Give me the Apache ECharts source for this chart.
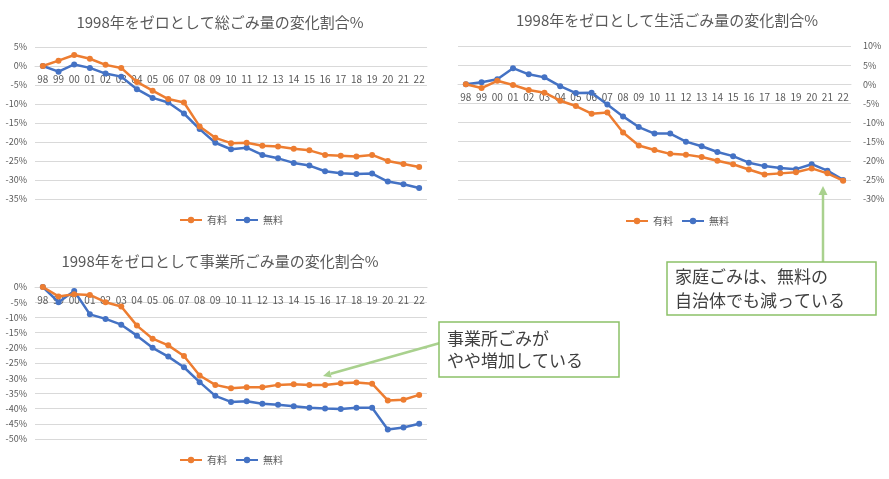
<!DOCTYPE html>
<html>
<head>
<meta charset="utf-8">
<script src="https://cdn.jsdelivr.net/npm/echarts@6/dist/echarts.min.js"></script>
<style>
html,body{margin:0;padding:0;background:#fff;}
#c{width:889px;height:479px;}
</style>
</head>
<body>
<div id="c"></div>
<script>
const categories = ['98','99','00','01','02','03','04','05','06','07','08','09','10','11','12','13','14','15','16','17','18','19','20','21','22'];

const totalPaid = [0,1.4,2.9,1.9,0.3,-0.5,-4.2,-6.5,-8.7,-9.6,-15.9,-18.9,-20.3,-20.2,-21.0,-21.2,-21.8,-22.2,-23.4,-23.6,-23.8,-23.4,-25.0,-25.8,-26.6];
const totalFree = [0,-1.5,0.4,-0.5,-2.0,-2.8,-6.1,-8.4,-9.6,-12.5,-16.6,-20.2,-21.9,-21.5,-23.4,-24.3,-25.5,-26.2,-27.7,-28.2,-28.4,-28.3,-30.4,-31.1,-32.1];

const homePaid = [0,-1.0,0.9,-0.2,-1.5,-2.2,-4.3,-5.7,-7.7,-7.4,-12.6,-16.0,-17.2,-18.2,-18.4,-19.0,-20.0,-20.9,-22.3,-23.6,-23.3,-23.0,-22.0,-23.3,-25.2];
const homeFree = [0,0.5,1.3,4.2,2.6,1.8,-0.5,-2.3,-2.2,-5.3,-8.4,-11.2,-12.9,-12.9,-15.0,-16.2,-17.7,-18.8,-20.5,-21.4,-21.9,-22.2,-20.9,-22.6,-25.0];

const bizPaid = [0,-3.1,-2.4,-2.6,-5.0,-6.4,-12.7,-17.0,-19.2,-22.7,-29.1,-32.2,-33.3,-33.0,-33.0,-32.2,-32.0,-32.2,-32.2,-31.7,-31.4,-31.8,-37.3,-37.1,-35.5];
const bizFree = [0,-5.0,-1.3,-9.0,-10.5,-12.4,-16.0,-20.0,-22.9,-26.4,-31.3,-35.8,-37.8,-37.6,-38.4,-38.7,-39.2,-39.7,-40.0,-40.1,-39.7,-39.7,-46.9,-46.2,-45.0];

const titles = ['1998年をゼロとして総ごみ量の変化割合%','1998年をゼロとして生活ごみ量の変化割合%','1998年をゼロとして事業所ごみ量の変化割合%'];
const seriesNames = ['有料','無料'];
const notes = ['事業所ごみが\nやや増加している','家庭ごみは、無料の\n自治体でも減っている'];

const FONT = '"Noto Sans CJK JP", "Noto Sans", sans-serif';
const ORANGE = '#ED7D31', BLUE = '#4472C4', GRID = '#d9d9d9', TXT = '#595959';
const GREEN = '#a9d18e', BORDER = '#8cc168';
const H = 479;

const grids = [
  {left:35, right:462, top:47, bottom:280},
  {left:458, right:38, top:46, bottom:280},
  {left:35, right:462, top:287, bottom:40}
];
const yRanges = [[-35,5],[-30,10],[-50,0]];

// place the category axis on the zero line of its value axis
function zeroOffset(i){
  const g = grids[i];
  const h = H - g.top - g.bottom;
  const r = yRanges[i];
  const zeroY = g.top + h * (r[1] - 0) / (r[1] - r[0]);
  return -((H - g.bottom) - zeroY);
}

function xAx(i){
  return {type:'category', gridIndex:i, data:categories, boundaryGap:true,
    position:'bottom', offset: zeroOffset(i),
    axisLine:{show:true, onZero:false, lineStyle:{color:GRID}},
    axisTick:{show:false},
    axisLabel:{color:TXT, fontSize:10, fontFamily:FONT, margin:8, interval:0}};
}
function yAx(i){
  return {type:'value', gridIndex:i, min:yRanges[i][0], max:yRanges[i][1], interval:5,
    position: i===1 ? 'right' : 'left',
    axisLine:{show:false}, axisTick:{show:false},
    splitLine:{lineStyle:{color:GRID, width:1}},
    axisLabel:{color:TXT, fontSize:9, fontFamily:FONT, margin:i===1?12:8, formatter:'{value}%'}};
}
function ser(name, data, i, color){
  return {name:name, type:'line', xAxisIndex:i, yAxisIndex:i, data:data,
    symbol:'circle', symbolSize:6, showSymbol:true,
    lineStyle:{color:color, width:2.5}, itemStyle:{color:color}, animation:false, z: name==='有料'?3:2};
}
function leg(left, top){
  return {left:left, top:top, data:seriesNames, itemWidth:22, itemHeight:8, itemGap:8,
    textStyle:{color:TXT, fontSize:10, fontFamily:FONT}};
}
function ttl(x, y, t){
  return {type:'text', x:x, y:y, style:{text:t, fill:TXT, font:'15px '+FONT, textAlign:'center', textVerticalAlign:'middle'}};
}

const option = {
  backgroundColor:'#fff',
  animation:false,
  grid: grids,
  xAxis: [xAx(0), xAx(1), xAx(2)],
  yAxis: [yAx(0), yAx(1), yAx(2)],
  legend: [leg(174, 210), leg(620, 211), leg(174, 450)],
  series: [
    ser(seriesNames[0], totalPaid, 0, ORANGE), ser(seriesNames[1], totalFree, 0, BLUE),
    ser(seriesNames[0], homePaid, 1, ORANGE), ser(seriesNames[1], homeFree, 1, BLUE),
    ser(seriesNames[0], bizPaid, 2, ORANGE), ser(seriesNames[1], bizFree, 2, BLUE)
  ],
  graphic: [
    ttl(220, 22, titles[0]),
    ttl(667, 20, titles[1]),
    ttl(220, 261, titles[2]),
    // arrow 1
    {type:'line', shape:{x1:440, y1:343, x2:330.7, y2:373.8}, style:{stroke:GREEN, lineWidth:2.5}, z:10},
    {type:'polygon', shape:{points:[[323,376],[331.7,377.5],[329.6,370.2]]}, style:{fill:GREEN}, z:10},
    // arrow 2
    {type:'line', shape:{x1:823, y1:262, x2:823, y2:194}, style:{stroke:GREEN, lineWidth:2.5}, z:10},
    {type:'polygon', shape:{points:[[823,186],[818.5,195],[827.5,195]]}, style:{fill:GREEN}, z:10},
    // box 1
    {type:'rect', shape:{x:439, y:322, width:180, height:55}, style:{fill:'#fff', stroke:BORDER, lineWidth:1.5}, z:11},
    {type:'text', x:447, y:349.5, style:{text:notes[0], fill:'#404040', font:'17px '+FONT, lineHeight:22, textVerticalAlign:'middle'}, z:12},
    // box 2
    {type:'rect', shape:{x:667, y:262, width:209, height:53}, style:{fill:'#fff', stroke:BORDER, lineWidth:1.5}, z:11},
    {type:'text', x:675, y:288.5, style:{text:notes[1], fill:'#404040', font:'17px '+FONT, lineHeight:24, textVerticalAlign:'middle'}, z:12}
  ]
};

const chart = echarts.init(document.getElementById('c'));
chart.setOption(option);
</script>
</body>
</html>
